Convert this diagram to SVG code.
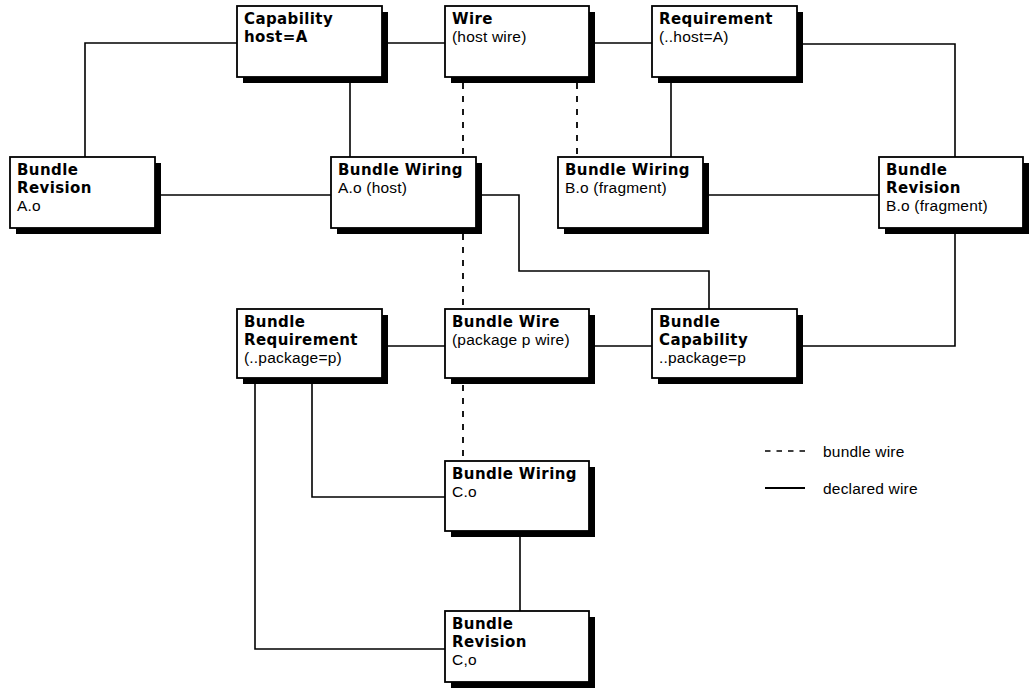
<svg xmlns="http://www.w3.org/2000/svg" width="1033" height="688" viewBox="0 0 1033 688">
<style>
.sh{fill:#000}
.box{fill:#fff;stroke:#000;stroke-width:1.8}
.b{font-family:"DejaVu Sans",sans-serif;font-weight:bold;font-size:15px;letter-spacing:0.4px;fill:#000}
.r{font-family:"Liberation Sans",Arial,sans-serif;font-size:15.5px;letter-spacing:0.2px;fill:#000}
.ln{fill:none;stroke:#000;stroke-width:1.6}
.dl{fill:none;stroke:#000;stroke-width:1.8;stroke-dasharray:6 7}
.lg{fill:none;stroke:#000;stroke-width:1.4;stroke-dasharray:5.5 6}
</style>
<rect width="1033" height="688" fill="#fff"/>
<g id="connectors">
<polyline class="ln" points="237,43 85,43 85,157"/>
<line class="ln" x1="382" y1="43" x2="445" y2="43"/>
<line class="ln" x1="589" y1="43" x2="652" y2="43"/>
<polyline class="ln" points="797,44 955,44 955,157"/>
<line class="ln" x1="350" y1="80" x2="350" y2="157"/>
<line class="dl" x1="463" y1="83" x2="463" y2="157"/>
<line class="dl" x1="577" y1="83" x2="577" y2="157"/>
<line class="ln" x1="671" y1="80" x2="671" y2="157"/>
<line class="ln" x1="155" y1="195" x2="331" y2="195"/>
<line class="ln" x1="703" y1="195" x2="879" y2="195"/>
<polyline class="ln" points="476,195 519,195 519,271 709,271 709,309"/>
<line class="dl" x1="463" y1="234" x2="463" y2="309"/>
<line class="ln" x1="382" y1="346" x2="445" y2="346"/>
<line class="ln" x1="589" y1="346" x2="652" y2="346"/>
<polyline class="ln" points="797,346 955,346 955,230"/>
<line class="dl" x1="463" y1="385" x2="463" y2="461"/>
<polyline class="ln" points="312,380 312,497 445,497"/>
<polyline class="ln" points="255,380 255,649 445,649"/>
<line class="ln" x1="520" y1="534" x2="520" y2="611"/>
</g>
<g id="capability">
<rect class="sh" x="243" y="12" width="145" height="71"/>
<rect class="box" x="237" y="6" width="145" height="71"/>
<text class="b" x="244" y="24">Capability</text>
<text class="b" x="244" y="42">host=A</text>
</g>
<g id="wire">
<rect class="sh" x="451" y="12" width="144" height="71"/>
<rect class="box" x="445" y="6" width="144" height="71"/>
<text class="b" x="452" y="24">Wire</text>
<text class="r" x="452" y="42">(host wire)</text>
</g>
<g id="requirement">
<rect class="sh" x="658" y="12" width="145" height="71"/>
<rect class="box" x="652" y="6" width="145" height="71"/>
<text class="b" x="659" y="24">Requirement</text>
<text class="r" x="659" y="42">(..host=A)</text>
</g>
<g id="revision-a">
<rect class="sh" x="16" y="163" width="145" height="71"/>
<rect class="box" x="10" y="157" width="145" height="71"/>
<text class="b" x="17" y="175">Bundle</text>
<text class="b" x="17" y="193">Revision</text>
<text class="r" x="17" y="211">A.o</text>
</g>
<g id="wiring-a">
<rect class="sh" x="337" y="163" width="145" height="71"/>
<rect class="box" x="331" y="157" width="145" height="71"/>
<text class="b" x="338" y="175">Bundle Wiring</text>
<text class="r" x="338" y="193">A.o (host)</text>
</g>
<g id="wiring-b">
<rect class="sh" x="564" y="163" width="145" height="71"/>
<rect class="box" x="558" y="157" width="145" height="71"/>
<text class="b" x="565" y="175">Bundle Wiring</text>
<text class="r" x="565" y="193">B.o (fragment)</text>
</g>
<g id="revision-b">
<rect class="sh" x="885" y="163" width="144" height="71"/>
<rect class="box" x="879" y="157" width="144" height="71"/>
<text class="b" x="886" y="175">Bundle</text>
<text class="b" x="886" y="193">Revision</text>
<text class="r" x="886" y="211">B.o (fragment)</text>
</g>
<g id="bundle-requirement">
<rect class="sh" x="243" y="315" width="145" height="69"/>
<rect class="box" x="237" y="309" width="145" height="69"/>
<text class="b" x="244" y="327">Bundle</text>
<text class="b" x="244" y="345">Requirement</text>
<text class="r" x="244" y="363">(..package=p)</text>
</g>
<g id="bundle-wire">
<rect class="sh" x="451" y="315" width="144" height="69"/>
<rect class="box" x="445" y="309" width="144" height="69"/>
<text class="b" x="452" y="327">Bundle Wire</text>
<text class="r" x="452" y="345">(package p wire)</text>
</g>
<g id="bundle-capability">
<rect class="sh" x="658" y="315" width="145" height="69"/>
<rect class="box" x="652" y="309" width="145" height="69"/>
<text class="b" x="659" y="327">Bundle</text>
<text class="b" x="659" y="345">Capability</text>
<text class="r" x="659" y="363">..package=p</text>
</g>
<g id="wiring-c">
<rect class="sh" x="451" y="467" width="144" height="70"/>
<rect class="box" x="445" y="461" width="144" height="70"/>
<text class="b" x="452" y="479">Bundle Wiring</text>
<text class="r" x="452" y="497">C.o</text>
</g>
<g id="revision-c">
<rect class="sh" x="451" y="617" width="144" height="71"/>
<rect class="box" x="445" y="611" width="144" height="71"/>
<text class="b" x="452" y="629">Bundle</text>
<text class="b" x="452" y="647">Revision</text>
<text class="r" x="452" y="665">C,o</text>
</g>
<g id="legend">
<line class="lg" x1="765" y1="451" x2="805" y2="451"/>
<text class="r" x="823" y="457">bundle wire</text>
<line class="ln" x1="765" y1="488" x2="805" y2="488" style="stroke-width:2"/>
<text class="r" x="823" y="494">declared wire</text>
</g>
</svg>
